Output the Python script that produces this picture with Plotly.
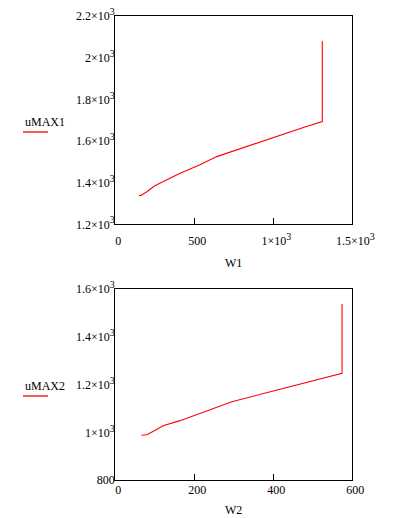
import plotly.graph_objects as go

# ---- data ----
W1 = [150, 165, 200, 250, 400, 536, 642, 800, 1000, 1200, 1310, 1310]
uMAX1 = [1337, 1340, 1356, 1385, 1442, 1486, 1525, 1566, 1618, 1667, 1693, 2080]

W2 = [66, 80, 100, 121, 164, 214, 273, 295, 400, 500, 574, 574]
uMAX2 = [988, 990, 1008, 1028, 1049, 1080, 1114, 1128, 1173, 1216, 1247, 1536]

SUP3 = "<sup><span style='font-size:10px'>3</span></sup>"
x1_ticks = [0, 500, 1000, 1500]
x1_text = ["0", "500", "1×10" + SUP3, "1.5×10" + SUP3]
y1_ticks = [1200, 1400, 1600, 1800, 2000, 2200]
y1_text = ["1.2×10" + SUP3, "1.4×10" + SUP3, "1.6×10" + SUP3,
           "1.8×10" + SUP3, "2×10" + SUP3, "2.2×10" + SUP3]

x2_ticks = [0, 200, 400, 600]
x2_text = ["0", "200", "400", "600"]
y2_ticks = [800, 1000, 1200, 1400, 1600]
y2_text = ["800", "1×10" + SUP3, "1.2×10" + SUP3, "1.4×10" + SUP3, "1.6×10" + SUP3]

FONT = "Liberation Serif"
RED = "#ff0000"

fig = go.Figure()
fig.add_trace(go.Scatter(x=W1, y=uMAX1, mode="lines", line=dict(color=RED, width=1.1),
                         xaxis="x", yaxis="y", showlegend=False))
fig.add_trace(go.Scatter(x=W2, y=uMAX2, mode="lines", line=dict(color=RED, width=1.1),
                         xaxis="x2", yaxis="y2", showlegend=False))

xd = [0.2926, 0.8942]
top_d = [0.567, 0.969]
bot_d = [0.0728, 0.4427]

tickfont = dict(family=FONT, size=12, color="#000")
common_line = dict(showline=True, linecolor="#000", linewidth=1.3, showgrid=False,
                   zeroline=False, tickfont=tickfont, automargin=False)

def xmain(rng, tv, tt, dom, anchor, standoff):
    return dict(range=rng, domain=dom, anchor=anchor, tickvals=tv, ticktext=tt,
                ticks="inside", ticklen=6, tickwidth=1.3, tickcolor="#000", mirror=True,
                ticklabelstandoff=standoff, ticklabelshift=3, **common_line)

def ymain(rng, tv, tt, dom, anchor):
    return dict(range=rng, domain=dom, anchor=anchor, tickvals=tv, ticktext=tt,
                ticks="", mirror=True, ticklabelstandoff=-3, **common_line)

def xtop(rng, tv, over, anchor):
    return dict(range=rng, overlaying=over, side="top", anchor=anchor, tickvals=tv,
                ticks="inside", ticklen=6, tickwidth=1.3, tickcolor="#000", automargin=False,
                showticklabels=False, showgrid=False, zeroline=False, showline=False)

def yright(rng, tv, over, anchor):
    return dict(range=rng, overlaying=over, side="right", anchor=anchor, tickvals=tv,
                ticks="inside", ticklen=6, tickwidth=1.3, tickcolor="#000", automargin=False,
                showticklabels=False, showgrid=False, zeroline=False, showline=False)

fig.update_layout(
    width=394, height=518,
    margin=dict(l=0, r=0, t=0, b=0),
    paper_bgcolor="white", plot_bgcolor="white",
    showlegend=False,
    xaxis=xmain([0, 1500], x1_ticks, x1_text, xd, "y", 5),
    yaxis=ymain([1200, 2200], y1_ticks, y1_text, top_d, "x"),
    xaxis2=xmain([0, 600], x2_ticks, x2_text, xd, "y2", -2),
    yaxis2=ymain([800, 1600], y2_ticks, y2_text, bot_d, "x2"),
    xaxis3=xtop([0, 1500], x1_ticks, "x", "y"),
    yaxis3=yright([1200, 2200], y1_ticks, "y", "x"),
    xaxis4=xtop([0, 600], x2_ticks, "x2", "y2"),
    yaxis4=yright([800, 1600], y2_ticks, "y2", "x2"),
)

# axis titles
for name, yc in [("W1", 1 - 262.7 / 518), ("W2", 1 - 510 / 518)]:
    fig.add_annotation(text=name, x=(xd[0] + xd[1]) / 2, y=yc, xref="paper", yref="paper",
                       xanchor="center", yanchor="middle", showarrow=False,
                       font=dict(family=FONT, size=12, color="#000"))

# legend-like labels (Mathcad style: name with line sample below)
for name, ytxt, yline in [("uMAX1", 1 - 121.7 / 518, 1 - 132 / 518),
                          ("uMAX2", 1 - 385.5 / 518, 1 - 396 / 518)]:
    fig.add_annotation(text=name, x=23 / 394, y=ytxt, xref="paper", yref="paper",
                       xanchor="left", yanchor="middle", showarrow=False,
                       font=dict(family=FONT, size=12, color="#000"))
    fig.add_shape(type="line", xref="paper", yref="paper",
                  x0=23 / 394, x1=48 / 394, y0=yline, y1=yline,
                  line=dict(color=RED, width=1.3))

fig.write_html("out.html")
